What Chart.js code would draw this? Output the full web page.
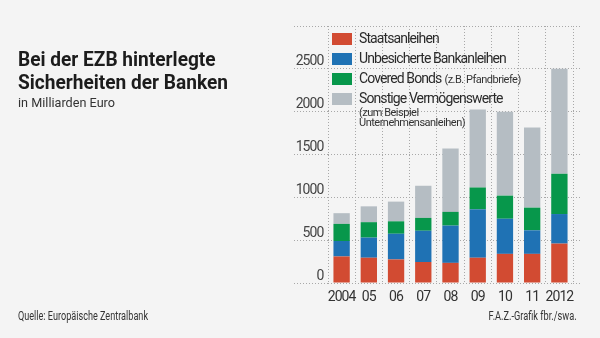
<!DOCTYPE html>
<html>
<head>
<meta charset="utf-8">
<script src="https://cdn.jsdelivr.net/npm/chart.js@4"></script>
<style>
  html, body { margin: 0; padding: 0; background: #f4f4f4; }
  #wrap { position: relative; width: 600px; height: 338px; overflow: hidden; }
  canvas { position: absolute; left: 0; top: 0; }
  .txt { position: absolute; white-space: nowrap; color: #1c1c1c; font-family: Roboto, "Liberation Sans", sans-serif;
         transform-origin: left center; }
  #title { left: 18px; top: 48px; font-size: 20px; font-weight: bold; line-height: 23px; }
  #sub { left: 18px; top: 94px; font-size: 13px; line-height: 17px; color: #333; }
  #src { left: 18px; top: 308px; font-size: 12px; line-height: 16px; color: #333; }
  #credit { right: 23px; top: 308px; font-size: 12px; line-height: 16px; color: #333; transform-origin: right center; }
</style>
</head>
<body>
<div id="wrap">
  <canvas id="chart" width="600" height="338"></canvas>
  <div class="txt" id="title" data-w="210">Bei der EZB hinterlegte<br>Sicherheiten der Banken</div>
  <div class="txt" id="sub" data-w="97">in Milliarden Euro</div>
  <div class="txt" id="src" data-w="130">Quelle: Europäische Zentralbank</div>
  <div class="txt" id="credit" data-w="88">F.A.Z.-Grafik fbr./swa.</div>
</div>
<script>
const FONT = 'Roboto, "Liberation Sans", sans-serif';

// in Milliarden Euro, stacked from bottom to top
const years = ['2004', '05', '06', '07', '08', '09', '10', '11', '2012'];
const staatsanleihen = [310, 295, 275, 245, 235, 295, 340, 340, 460];
const bankanleihen = [180, 235, 300, 365, 435, 565, 410, 275, 345];
const coveredBonds = [200, 180, 145, 150, 160, 255, 270, 265, 470];
const sonstige = [125, 185, 230, 375, 740, 910, 980, 935, 1225];
const seriesNames = ['Staatsanleihen', 'Unbesicherte Bankanleihen', 'Covered Bonds', 'Sonstige Vermögenswerte'];
const seriesColors = ['#d24b32', '#1f72b4', '#07974b', '#b5bdc3'];
const yTicks = [0, 500, 1000, 1500, 2000, 2500, 3000];

// small notes printed next to / below legend entries
const legendNotes = { 2: ['(z.B. Pfandbriefe)'], 3: ['(zum Beispiel', 'Unternehmensanleihen)'] };

// the original uses a condensed face, so squeeze the text a bit
document.querySelectorAll('[data-w]').forEach(el => {
    const w = el.getBoundingClientRect().width;
    el.style.transform = 'scaleX(' + (el.dataset.w / w) + ')';
});

const condensePlugin = {
    id: 'condense',
    beforeUpdate(chart) { chart.ctx.letterSpacing = '-0.9px'; },
    beforeDraw(chart) { chart.ctx.letterSpacing = '-0.9px'; },
    afterLayout(chart) {
        // legend sits in the top left corner of the plot
        const lg = chart.legend, ca = chart.chartArea;
        lg.left = ca.left - 2;
        lg.top = ca.top;
        lg.bottom = ca.bottom;
    }
};

const notesPlugin = {
    id: 'legendNotes',
    afterDraw(chart) {
        const boxes = chart.legend.legendHitBoxes;
        const ctx = chart.ctx;
        ctx.save();
        ctx.letterSpacing = '-0.5px';
        ctx.fillStyle = '#333';
        ctx.font = '11px ' + FONT;
        ctx.textBaseline = 'middle';
        const n2 = boxes[2];
        ctx.fillText(legendNotes[2][0], n2.left + n2.width + 3, n2.top + n2.height / 2 + 1);
        const n3 = boxes[3];
        const tx = n3.left + 27;
        ctx.fillText(legendNotes[3][0], tx, n3.top + n3.height / 2 + 14);
        ctx.fillText(legendNotes[3][1], tx, n3.top + n3.height / 2 + 24.5);
        ctx.restore();
    }
};

const data = [staatsanleihen, bankanleihen, coveredBonds, sonstige];

const ctx = document.getElementById('chart').getContext('2d');
const chart = new Chart(ctx, {
    type: 'bar',
    data: {
        labels: years,
        datasets: data.map((d, i) => ({
            label: seriesNames[i],
            data: d,
            backgroundColor: seriesColors[i],
            borderWidth: 0,
            categoryPercentage: 0.6,
            barPercentage: 1
        }))
    },
    options: {
        responsive: false,
        animation: false,
        layout: { padding: { left: 294, top: 26, right: 20, bottom: 0 } },
        scales: {
            x: {
                stacked: true,
                grid: { color: '#a8a8a8', drawTicks: false, offset: true },
                border: { display: false, dash: [1, 2] },
                ticks: { color: '#333', padding: 6, maxRotation: 0, autoSkip: false, font: { family: FONT, size: 14 } },
                afterFit: s => { s.height = 55; }
            },
            y: {
                stacked: true,
                min: 0,
                max: 3000,
                afterBuildTicks: s => { s.ticks = yTicks.map(v => ({ value: v })); },
                grid: { color: '#a8a8a8', tickLength: 34, tickBorderDash: [1, 2] },
                border: { display: false, dash: [1, 2] },
                ticks: {
                    color: '#444',
                    padding: -29.5,
                    labelOffset: -7,
                    font: { family: FONT, size: 14 },
                    callback: v => (v === 3000 ? '' : v)
                },
                afterFit: s => { s.width = 34; }
            },
            y2: {
                position: 'right',
                min: 0,
                max: 3000,
                afterBuildTicks: s => { s.ticks = yTicks.map(v => ({ value: v })); },
                grid: { color: '#a8a8a8', drawOnChartArea: false, tickLength: 7, tickBorderDash: [1, 2] },
                border: { display: false },
                ticks: { display: false },
                afterFit: s => { s.width = 7; }
            }
        },
        plugins: {
            legend: {
                position: 'chartArea',
                align: 'start',
                labels: {
                    boxWidth: 20,
                    boxHeight: 12,
                    padding: 6,
                    color: '#2a2a2a',
                    font: { family: FONT, size: 14 }
                }
            },
            tooltip: { enabled: false }
        }
    },
    plugins: [condensePlugin, notesPlugin]
});
</script>
</body>
</html>
